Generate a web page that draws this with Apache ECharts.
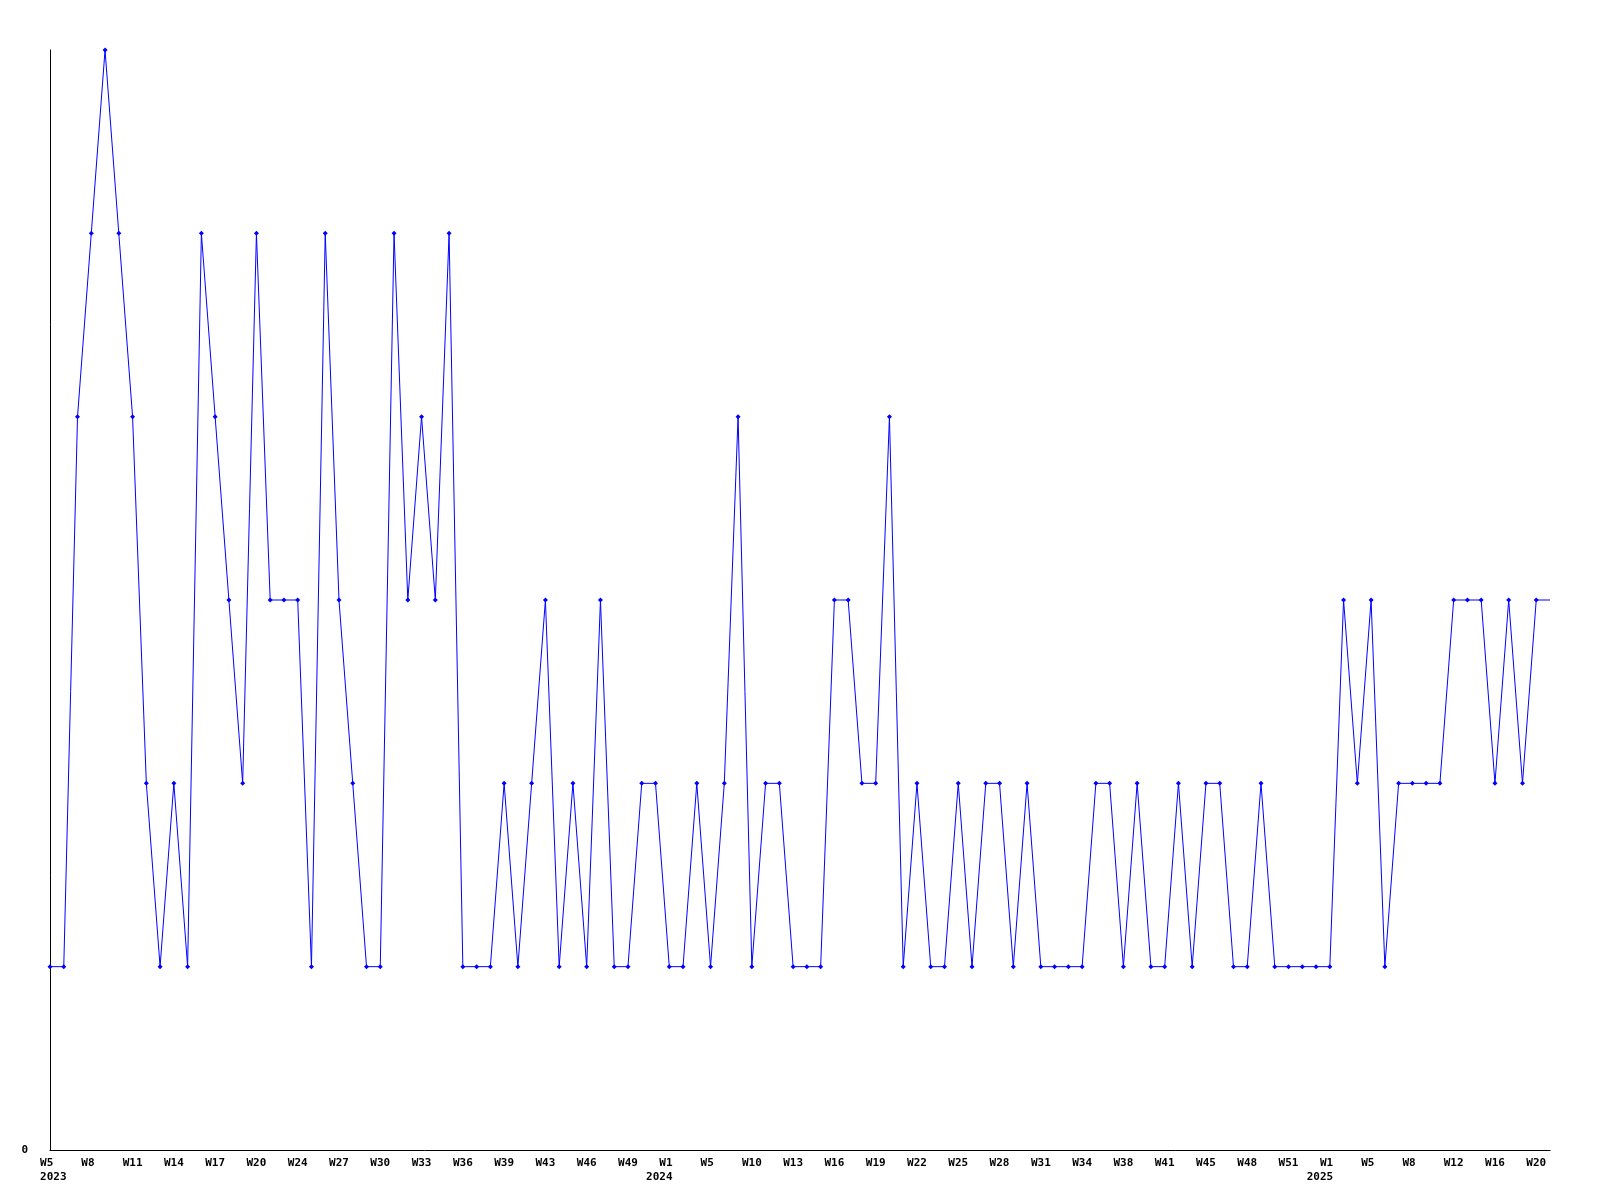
<!DOCTYPE html>
<html>
<head>
<meta charset="utf-8">
<script src="https://cdn.jsdelivr.net/npm/echarts@6/dist/echarts.min.js"></script>
<style>html,body{margin:0;padding:0;background:#fff}#c{width:1600px;height:1200px}</style>
</head>
<body>
<div id="c"></div>
<script>
var weeks = [
 'W5','W6','W7','W8','W9','W10','W11','W12','W13','W14','W15','W16','W17','W18','W19','W20','W21','W22','W24','W25',
 'W26','W27','W28','W29','W30','W31','W32','W33','W34','W35','W36','W37','W38','W39','W40','W41','W43','W44','W45','W46',
 'W47','W48','W49','W50','W52','W1','W2','W3','W5','W7','W8','W10','W11','W12','W13','W14','W15','W16','W17','W18',
 'W19','W20','W21','W22','W23','W24','W25','W26','W27','W28','W29','W30','W31','W32','W33','W34','W36','W37','W38','W39',
 'W40','W41','W43','W44','W45','W46','W47','W48','W49','W50','W51','W52','W53','W1','W2','W3','W5','W6','W7','W8',
 'W9','W10','W12','W13','W14','W16','W17','W18','W20','W21'
];
var yearStartIndex = [0, 45, 93];
var yearLabels = ['2023', '2024', '2025'];
var counts = [
 1,1,4,5,6,5,4,2,1,2, 1,5,4,3,2,5,3,3,3,1,
 5,3,2,1,1,5,3,4,3,5, 1,1,1,2,1,2,3,1,2,1,
 3,1,1,2,2,1,1,2,1,2, 4,1,2,2,1,1,1,3,3,2,
 2,4,1,2,1,1,2,1,2,2, 1,2,1,1,1,1,2,2,1,2,
 1,1,2,1,2,2,1,1,2,1, 1,1,1,1,3,2,3,1,2,2,
 2,2,3,3,3,2,3,2,3,3
];
var yTicks = [0];

var seriesData = counts.map(function (v, i) {
  return i === counts.length - 1 ? { value: v, symbol: 'none' } : v;
});

function xLabel(value, index) {
  var s = value;
  while (s.length < 3) s += ' ';
  var k = yearStartIndex.indexOf(index);
  if (k >= 0) {
    s += '\n' + (k === 0 ? ' ' + yearLabels[k] : yearLabels[k] + '   ');
  }
  return s;
}

var chart = echarts.init(document.getElementById('c'));
chart.setOption({
  animation: false,
  backgroundColor: '#ffffff',
  grid: { left: 50, right: 50, top: 50, bottom: 50, containLabel: false },
  xAxis: {
    type: 'category',
    data: weeks,
    boundaryGap: false,
    axisLine: { lineStyle: { color: '#000', width: 1 } },
    axisTick: { show: false },
    splitLine: { show: false },
    axisLabel: {
      interval: 2,
      color: '#000',
      fontFamily: 'DejaVu Sans Mono',
      fontWeight: 'bold',
      fontSize: 11,
      lineHeight: 14,
      margin: 6,
      formatter: xLabel
    }
  },
  yAxis: {
    type: 'value',
    min: 0,
    max: 6,
    interval: 6,
    axisLine: { show: true, lineStyle: { color: '#000', width: 1 } },
    axisTick: { show: false },
    splitLine: { show: false },
    axisLabel: {
      color: '#000',
      fontFamily: 'DejaVu Sans Mono',
      fontWeight: 'bold',
      fontSize: 11,
      margin: 22,
      formatter: function (v) { return yTicks.indexOf(v) >= 0 ? String(v) : ''; }
    }
  },
  series: [{
    type: 'line',
    data: seriesData,
    symbol: 'diamond',
    symbolSize: 5,
    showAllSymbol: true,
    lineStyle: { color: '#0000ff', width: 1 },
    itemStyle: { color: '#0000ff' }
  }]
});
</script>
</body>
</html>
